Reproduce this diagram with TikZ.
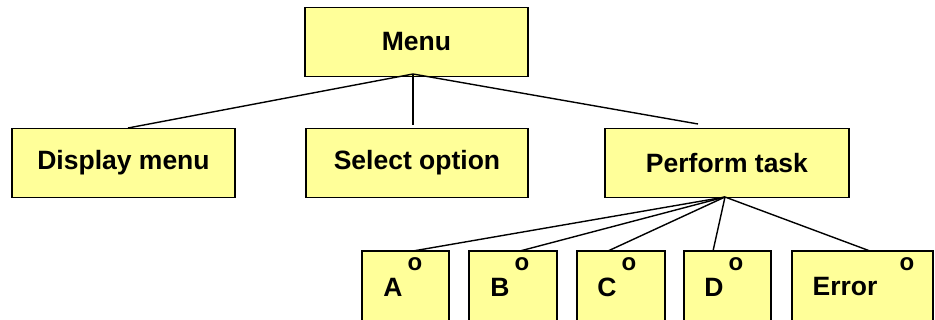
\documentclass[tikz,border=0pt]{standalone}
\usepackage{fontspec}
\setmainfont{Liberation Sans}
\begin{document}
\begin{tikzpicture}[x=1pt,y=-1pt,
  box/.style={draw=black, fill=boxyellow, line width=1.5pt, minimum height=69pt, inner sep=0pt, font=\fontsize{26.5}{30}\selectfont\bfseries},
  lbl/.style={inner sep=0pt, font=\fontsize{26.5}{30}\selectfont\bfseries},
  sel/.style={inner sep=0pt, font=\fontsize{24}{27}\selectfont\bfseries},
  link/.style={line width=1.4pt}]
\definecolor{boxyellow}{RGB}{255,255,153}
\useasboundingbox (0,0) rectangle (935,320);
% top level
\node[box, minimum width=223pt] (menu) at (416.5,42) {Menu};
\node[box, minimum width=223pt] (dm) at (123.5,163) {Display menu};
\node[box, minimum width=222pt] (so) at (417,163) {Select option};
\node[box, minimum width=244pt] (pt) at (727,163) {Perform task};
% bottom level
\node[box, minimum width=87pt, minimum height=70pt] (a) at (405.5,286) {};
\node[box, minimum width=88pt, minimum height=70pt] (b) at (513,286) {};
\node[box, minimum width=88pt, minimum height=70pt] (c) at (621,286) {};
\node[box, minimum width=87pt, minimum height=70pt] (d) at (727.5,286) {};
\node[box, minimum width=141pt, minimum height=70pt] (e) at (862.5,286) {};
\node[lbl] (ta) at (393,287) {A};
\node[lbl] (tb) at (500,287) {B};
\node[lbl] (tc) at (607,287) {C};
\node[lbl] (td) at (714,287) {D};
\node[lbl] (te) at (845,287) {Error};
\node[sel] (oa) at (415,264) {o};
\node[sel] (ob) at (522,264) {o};
\node[sel] (oc) at (629,264) {o};
\node[sel] (od) at (736,264) {o};
\node[sel] (oe) at (907,264) {o};
% free ends
\coordinate (m0) at (413,74);
\coordinate (dmtop) at (128,128);
\coordinate (sotop) at (413,125);
\coordinate (pttop) at (698,124);
\coordinate (p0) at (725,197);
\coordinate (atop) at (413,251);
\coordinate (btop) at (520,251);
\coordinate (ctop) at (608,251);
\coordinate (dtop) at (713,251);
\coordinate (etop) at (870,251);
\draw[link] (m0) -- (dmtop);
\draw[link] (m0) -- (sotop);
\draw[link] (m0) -- (pttop);
\draw[link] (p0) -- (atop);
\draw[link] (p0) -- (btop);
\draw[link] (p0) -- (ctop);
\draw[link] (p0) -- (dtop);
\draw[link] (p0) -- (etop);
\end{tikzpicture}
\end{document}
